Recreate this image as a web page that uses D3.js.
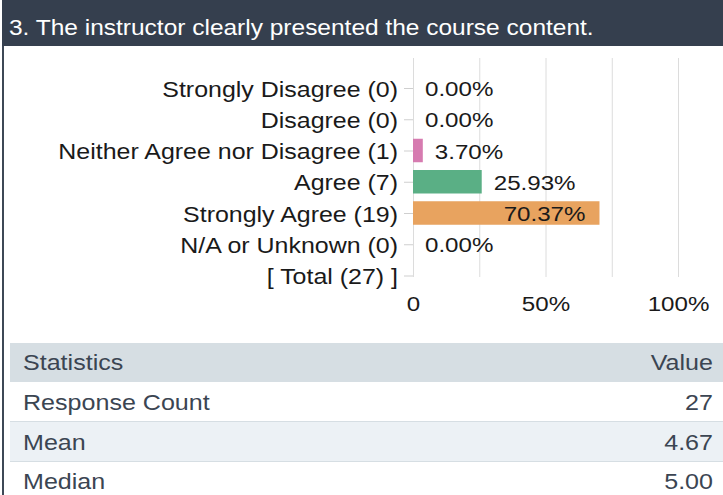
<!DOCTYPE html>
<html>
<head>
<meta charset="utf-8">
<script src="https://cdn.jsdelivr.net/npm/d3@7"></script>
<style>
  html, body { margin: 0; padding: 0; background: #fff; }
  svg { display: block; font-family: "Liberation Sans", Arial, sans-serif; }
</style>
</head>
<body>
<svg id="chart" width="723" height="495"></svg>
<script>
const title = "3. The instructor clearly presented the course content.";
const categories = ["Strongly Disagree (0)", "Disagree (0)", "Neither Agree nor Disagree (1)", "Agree (7)", "Strongly Agree (19)", "N/A or Unknown (0)", "[ Total (27) ]"];
const percents = [0, 0, 3.70, 25.93, 70.37, 0, null];
const barColors = ["#d67bb0", "#d67bb0", "#d67bb0", "#5aaf85", "#e8a35f", "#999999", "#999999"];
const xTickValues = [0, 50, 100];
const gridValues = [0, 25, 50, 75, 100];
const statHeaders = ["Statistics", "Value"];
const statLabels = ["Response Count", "Mean", "Median"];
const statValues = ["27", "4.67", "5.00"];

const SX = 1.15;     // horizontal stretch of the reference glyphs
const FS = 21;

const svg = d3.select("#chart");

function stext(parent, x, y, str, anchor, color, size) {
  return parent.append("text")
    .attr("transform", `translate(${x},${y}) scale(${SX},1)`)
    .attr("text-anchor", anchor || "start")
    .attr("font-size", size || FS)
    .attr("fill", color || "#1a1a1a")
    .text(str);
}

// header
svg.append("rect").attr("x", 2).attr("y", 0).attr("width", 721).attr("height", 46).attr("fill", "#353f4e");
stext(svg, 9, 35, title, "start", "#ffffff", 21.3);
// left border
svg.append("rect").attr("x", 2).attr("y", 46).attr("width", 2).attr("height", 449).attr("fill", "#3e4856");

// chart
const x = d3.scaleLinear().domain([0, 100]).range([413, 678]);
const y = d3.scalePoint().domain(categories).range([88, 275.5]);
const gridTop = 58, gridBottom = 277;
const barH = 23.5;

// gridlines
const grid = svg.append("g").attr("transform", `translate(0,${gridBottom})`)
  .call(d3.axisBottom(x).tickValues(gridValues).tickSize(-(gridBottom - gridTop)).tickFormat(""));
grid.select(".domain").remove();
grid.selectAll(".tick line").attr("stroke", "#dcdcdc").attr("stroke-width", 1);

// x axis labels
const xa = svg.append("g").attr("transform", `translate(0,${gridBottom})`)
  .call(d3.axisBottom(x).tickValues(xTickValues).tickSize(0).tickPadding(0)
    .tickFormat(d => d === 0 ? "0" : d + "%"));
xa.select(".domain").remove();
xa.selectAll(".tick text")
  .attr("y", null).attr("dy", null)
  .attr("transform", `translate(0,34) scale(${SX},1)`)
  .attr("font-size", 21).attr("font-family", "Liberation Sans, Arial, sans-serif")
  .attr("fill", "#1a1a1a");

// y axis
const ya = svg.append("g").attr("transform", `translate(${x(0)},0)`)
  .call(d3.axisLeft(y).tickSize(9).tickPadding(0));
ya.select(".domain").remove();
ya.selectAll(".tick line").attr("stroke", "#cfcfcf");
ya.selectAll(".tick text")
  .attr("x", null).attr("dy", null)
  .attr("transform", `translate(-15,8) scale(${SX},1)`)
  .attr("font-size", 21.7).attr("font-family", "Liberation Sans, Arial, sans-serif")
  .attr("fill", "#1a1a1a");

// bars
const rows = categories.map((c, i) => ({ c, v: percents[i], color: barColors[i] }));
svg.append("g").selectAll("rect").data(rows.filter(d => d.v !== null && d.v > 0)).join("rect")
  .attr("x", x(0))
  .attr("y", d => y(d.c) - barH / 2)
  .attr("width", d => x(d.v) - x(0))
  .attr("height", barH)
  .attr("fill", d => d.color);

// value labels
const lbl = svg.append("g");
rows.filter(d => d.v !== null).forEach(d => {
  const inside = d.v > 50;
  stext(lbl, inside ? x(d.v) - 14 : x(d.v) + 12, y(d.c) + 8, d.v.toFixed(2) + "%", inside ? "end" : "start", "#1a1a1a", 21);
});

// statistics table
const tableRows = [{ a: statHeaders[0], b: statHeaders[1], bg: "#d6dee3", y0: 343, base: 370 }];
const rowBg = ["#ffffff", "#ecf1f5", "#ffffff"];
const rowBase = [410, 450, 489];
statLabels.forEach((s, i) => tableRows.push({ a: s, b: statValues[i], bg: rowBg[i], y0: 382 + i * 40, base: rowBase[i] }));
const tbl = svg.append("g");
tableRows.forEach((r, i) => {
  tbl.append("rect").attr("x", 10).attr("y", r.y0).attr("width", 713).attr("height", 39).attr("fill", r.bg);
  if (i > 0) tbl.append("rect").attr("x", 10).attr("y", r.y0 + 39).attr("width", 713).attr("height", 1).attr("fill", "#d6dee3");
  stext(tbl, 23, r.base, r.a, "start", "#3b4552", 21.8);
  stext(tbl, 713, r.base, r.b, "end", "#3b4552", 21.8);
});
</script>
</body>
</html>
